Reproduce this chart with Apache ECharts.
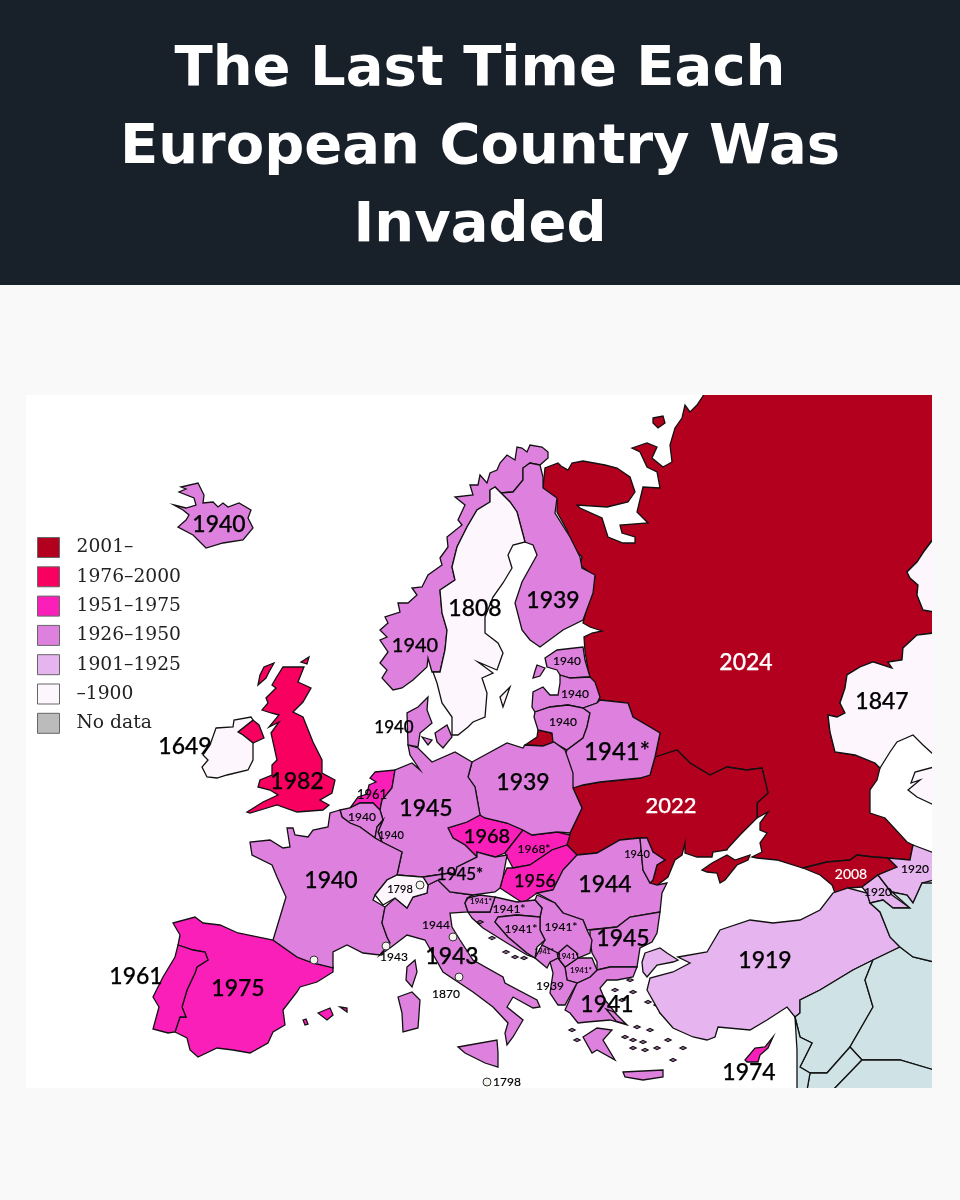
<!DOCTYPE html>
<html>
<head>
<meta charset="utf-8">
<title>The Last Time Each European Country Was Invaded</title>
<script src="https://cdn.jsdelivr.net/npm/echarts@6/dist/echarts.min.js"></script>
<style>
html, body { margin: 0; padding: 0; background: #f9f9f9; }
#main { width: 960px; height: 1200px; }
</style>
</head>
<body>
<div id="main"></div>
<script>
// last invasion year per country
var countries = ['Russia', 'Ukraine', 'Georgia', 'UK', 'Cyprus', 'Czechia', 'Slovakia', 'Hungary', 'Netherlands', 'Spain', 'Portugal',
	'Iceland', 'Norway', 'Finland', 'Estonia', 'Latvia', 'Lithuania', 'Belarus', 'Poland', 'Germany', 'Belgium', 'Luxembourg', 'France',
	'Denmark', 'Italy', 'Austria', 'Romania', 'Moldova', 'Bulgaria', 'Greece', 'Macedonia', 'Albania', 'Kosovo', 'Montenegro', 'Serbia',
	'Croatia', 'Bosnia', 'Slovenia', 'Turkey', 'Armenia', 'Azerbaijan', 'Sweden', 'Ireland', 'Switzerland', 'Kazakhstan', 'CentralAsia'];
var years = [2024, 2022, 2008, 1982, 1974, 1968, 1968, 1956, 1961, 1975, 1961,
	1940, 1940, 1939, 1940, 1940, 1940, 1941, 1939, 1945, 1940, 1940, 1940,
	1940, 1943, 1945, 1944, 1940, 1945, 1941, 1941, 1939, 1941, 1941, 1941,
	1941, 1941, 1941, 1919, 1920, 1920, 1808, 1649, 1798, 1847, 1847];
var noDataCountries = ['Syria', 'Iraq', 'Iran', 'Jordan', 'Saudi', 'Levant'];

// legend
var binNames = ['2001–', '1976–2000', '1951–1975', '1926–1950', '1901–1925', '–1900', 'No data'];
var binColors = ['#b3001e', '#f8005f', '#fa1fb8', '#de80de', '#e6b4ee', '#fdf6fd', '#bbbbbb'];
var binMin = [2001, 1976, 1951, 1926, 1901, 0];
var binMax = [3000, 2000, 1975, 1950, 1925, 1900];

// labels on the map
var labelTexts = ['1940', '1940', '1808', '1939', '2024', '1847', '1940', '1940', '1940', '1941*', '1940', '1649', '1982', '1961', '1940', '1940',
	'1945', '1939', '2022', '1968', '1968*', '1945*', '1956', '1944', '1940', '2008', '1920', '1920', '1919', '1940', '1798', '1961', '1975',
	'1944', '1943', '1943', '1870', '1798', '1941*', '1941*', '1941*', '1941*', '1945', '1941*', '1941*', '1941*', '1939', '1941', '1974'];
var labelAnchors = [[219, 525], [415, 646], [475, 609], [553, 601], [746, 663], [882, 702], [567, 661], [575, 694], [563, 722], [617, 752], [394, 728], [185, 747], [297, 782], [372, 795], [362, 817], [391, 835],
	[426, 809], [523, 783], [671, 806], [487, 837], [534, 849], [460, 875], [535, 881], [605, 885], [637, 854], [851, 874], [915, 869], [878, 892], [765, 961], [331, 881], [400, 889], [136, 977], [238, 989],
	[436, 925], [394, 957], [452, 957], [446, 994], [507, 1082], [481, 901], [509, 909], [521, 929], [561, 927], [623, 939], [544, 952], [568, 956], [581, 970], [550, 986], [607, 1005], [749, 1073]];
var labelSizes = [23, 20, 23, 23, 23, 23, 12, 12, 12, 24, 17, 23, 23, 13, 12, 11,
	23, 23, 22, 20, 12, 17, 18, 23, 11, 14, 12, 12, 23, 23, 11, 23, 23,
	12, 12, 23, 12, 12, 8, 12, 12, 12, 23, 7, 8, 8, 12, 23, 23];
var whiteLabels = ['2024', '2022', '2008'];

// microstates and cities, little round markers
var dotPoints = [[314, 960], [386, 946], [453, 937], [459, 977], [420, 885], [487, 1082]];

// small islands, each drawn as a tiny diamond
var greekIslands = [[625, 1037], [633, 1040], [643, 1042], [633, 1048], [645, 1050], [657, 1048], [650, 1030], [637, 1027], [630, 980], [633, 992], [615, 990], [648, 1002], [657, 1005], [663, 1013], [572, 1030], [577, 1040], [683, 1048], [673, 1060], [622, 1000], [668, 1040]];
var croatianIslands = [[480, 922], [492, 938], [506, 952], [515, 957], [524, 958]];

function islandRing(p) {
	return [p[0] - 3, p[1], p[0], p[1] - 1.5, p[0] + 3, p[1], p[0], p[1] + 1.5];
}

// outlines, [x, y, x, y, ...] in picture pixels, one list per island
var outlines = {
	Russia: [
		[705,396, 932,396, 932,538, 925,550, 917,562, 907,572, 910,578, 918,585, 917,595, 923,610, 932,612, 932,633, 917,635, 903,648, 902,660, 888,662, 892,668, 873,662, 860,667, 847,675, 845,688, 840,703, 845,713, 837,717, 828,715, 830,732, 835,752, 855,755, 875,763, 880,768, 877,780, 870,790, 870,813, 885,818, 907,842, 913,845, 910,860, 888,858, 873,857, 857,855, 850,860, 827,862, 803,868, 777,860, 757,858, 752,857, 762,852, 760,843, 767,833, 760,830, 760,823, 768,812, 757,818, 757,803, 768,793, 762,768, 747,770, 727,767, 710,775, 690,763, 677,750, 662,755, 655,757, 660,733, 650,727, 633,717, 628,703, 600,700, 590,680, 585,652, 584,637, 592,633, 602,631, 590,627, 583,623, 595,577, 580,565, 582,557, 570,545, 568,532, 557,512, 557,500, 543,488, 545,468, 558,463, 561,466, 568,470, 572,463, 583,461, 605,465, 617,468, 630,477, 635,492, 628,502, 607,507, 577,505, 580,508, 602,518, 608,537, 623,543, 635,543, 635,537, 622,533, 620,525, 648,523, 637,512, 643,487, 660,488, 657,472, 647,467, 640,452, 632,448, 647,443, 657,447, 652,458, 663,467, 672,462, 670,445, 675,428, 682,418, 685,405, 690,412, 697,405],
		[653,418, 663,416, 665,423, 658,428, 653,423],
		[525,745, 537,737, 538,730, 552,733, 554,742, 543,746]
	],
	Ukraine: [
		[583,785, 600,782, 640,778, 650,775, 655,757, 677,750, 690,763, 710,775, 727,767, 747,770, 762,768, 768,793, 757,803, 757,818, 740,835, 728,848, 727,850, 713,852, 712,857, 697,857, 685,853, 685,843, 682,855, 675,860, 668,877, 655,887, 650,883, 653,880, 657,865, 665,860, 653,852, 647,838, 640,838, 620,840, 597,853, 577,855, 567,845, 570,833, 582,808, 573,788],
		[702,870, 712,863, 727,855, 735,860, 750,855, 748,860, 737,865, 725,880, 720,883, 717,873, 707,872]
	],
	Georgia: [[803,868, 827,862, 850,860, 857,855, 873,857, 888,858, 897,867, 878,875, 862,887, 848,888, 835,893, 832,885, 820,875]],
	UK: [
		[283,667, 304,667, 298,682, 311,688, 303,702, 293,712, 303,717, 313,742, 322,760, 322,773, 335,780, 332,793, 320,800, 329,805, 323,810, 297,812, 277,805, 267,808, 250,813, 247,812, 263,802, 278,795, 270,790, 258,787, 260,780, 272,775, 272,765, 277,760, 271,733, 279,722, 269,727, 279,715, 271,713, 262,710, 268,703, 266,698, 276,688, 272,685, 276,678],
		[258,685, 260,675, 264,667, 274,663, 269,672, 266,678],
		[301,662, 309,657, 307,664],
		[238,732, 253,720, 259,725, 264,738, 253,743, 243,735]
	],
	Cyprus: [[745,1060, 755,1048, 765,1047, 773,1037, 768,1048, 760,1055, 758,1062, 747,1062]],
	Czechia: [[448,828, 467,822, 480,815, 485,818, 507,823, 523,830, 505,853, 495,857, 477,852, 477,857, 465,845, 453,838]],
	Slovakia: [[523,830, 532,835, 557,832, 570,835, 567,845, 552,850, 530,865, 513,868, 505,853]],
	Hungary: [[513,868, 530,865, 552,850, 567,845, 577,855, 563,870, 553,890, 537,893, 523,903, 500,888, 503,877, 507,868]],
	Netherlands: [[375,772, 395,770, 392,788, 382,800, 380,810, 373,803, 360,803, 350,808, 358,797, 367,794, 369,785, 376,782, 370,778]],
	Spain: [[173,923, 195,917, 203,923, 220,925, 238,933, 273,940, 297,957, 313,963, 333,967, 333,972, 317,982, 300,987, 297,992, 283,1010, 285,1025, 273,1032, 268,1043, 250,1053, 233,1050, 217,1048, 198,1057, 190,1050, 187,1038, 175,1032, 180,1017, 186,1017, 182,1007, 187,990, 195,973, 197,967, 208,960, 205,952, 193,950, 178,945, 180,935],
		[318,1013, 330,1008, 333,1015, 327,1020],
		[340,1007, 347,1008, 347,1012],
		[303,1020, 306,1019, 308,1024, 305,1025]
	],
	Portugal: [[178,945, 193,950, 205,952, 208,960, 197,967, 195,973, 187,990, 182,1007, 186,1017, 180,1017, 175,1032, 168,1033, 153,1029, 159,1007, 153,997, 163,977, 175,957]],
	Iceland: [[174,505, 186,508, 196,505, 194,498, 179,492, 186,489, 181,487, 198,483, 204,495, 203,503, 213,502, 218,507, 223,503, 228,507, 239,503, 251,510, 248,518, 253,528, 243,540, 223,543, 206,548, 193,535, 178,527, 186,520, 189,515, 183,510]],
	Norway: [[548,452, 542,447, 530,445, 527,452, 522,448, 517,447, 515,460, 507,455, 500,463, 497,470, 490,473, 487,483, 480,475, 478,485, 470,485, 473,495, 455,497, 465,505, 458,520, 462,525, 447,537, 448,547, 440,558, 442,565, 428,575, 422,587, 412,588, 417,595, 408,603, 398,603, 400,612, 385,617, 388,623, 380,630, 387,637, 380,640, 388,652, 380,663, 387,670, 382,678, 393,690, 402,688, 413,680, 427,667, 428,658, 432,672, 440,672, 445,650, 447,630, 442,613, 440,590, 455,580, 452,567, 457,547, 467,527, 477,510, 490,502, 490,490, 495,487, 500,493, 513,492, 523,480, 523,468, 530,463, 540,465, 548,458]],
	Finland: [[523,468, 530,463, 540,465, 543,477, 543,488, 557,498, 555,513, 570,537, 580,557, 582,568, 595,575, 593,593, 583,620, 563,630, 540,647, 530,640, 522,630, 515,603, 522,582, 537,555, 533,545, 525,542, 517,512, 510,502, 495,487, 500,493, 513,492, 523,480]],
	Estonia: [[545,658, 557,650, 583,647, 585,660, 590,677, 570,678, 560,675, 557,670, 547,667], [537,665, 545,668, 540,676, 533,678, 535,671]],
	Latvia: [[532,707, 533,692, 543,687, 550,695, 558,695, 560,683, 560,675, 570,678, 590,677, 595,682, 600,697, 597,703, 583,708, 568,705, 550,707, 535,712]],
	Lithuania: [[535,712, 550,707, 568,705, 583,708, 590,713, 587,727, 583,738, 567,750, 553,742, 552,733, 538,730, 534,717]],
	Belarus: [[583,708, 597,703, 600,700, 628,703, 633,717, 650,727, 660,733, 655,757, 650,775, 640,778, 600,782, 583,785, 573,788, 565,755, 567,750, 583,738, 587,727, 590,713]],
	Poland: [[472,762, 507,743, 523,748, 525,745, 543,746, 554,742, 565,750, 573,773, 573,788, 582,808, 570,833, 557,832, 532,835, 523,830, 507,823, 485,818, 480,815, 475,787, 468,777]],
	Germany: [[408,745, 418,748, 432,762, 455,752, 472,762, 468,777, 475,787, 480,815, 467,822, 448,828, 453,838, 465,845, 477,857, 457,867, 455,875, 450,873, 423,877, 397,875, 402,852, 382,842, 378,832, 383,820, 380,810, 382,800, 392,788, 395,770, 412,763, 420,770, 410,755]],
	Belgium: [[340,810, 350,808, 360,803, 373,803, 380,810, 383,820, 377,827, 375,838, 360,827, 350,823, 342,817]],
	Luxembourg: [[377,827, 383,820, 378,832, 382,842, 375,838]],
	France: [
		[328,827, 330,813, 340,810, 342,817, 350,823, 360,827, 375,838, 382,842, 402,852, 397,875, 387,880, 375,895, 373,900, 385,907, 382,923, 387,937, 390,943, 380,955, 363,953, 347,945, 333,952, 333,968, 313,963, 297,957, 273,940, 280,917, 286,897, 277,877, 272,865, 252,855, 250,842, 270,840, 283,848, 290,847, 287,828, 293,828, 295,835, 308,837, 313,830],
		[407,967, 415,960, 417,972, 412,987, 406,980]
	],
	Denmark: [[428,697, 427,710, 432,723, 420,733, 418,747, 408,745, 407,713, 418,707], [435,733, 447,725, 452,737, 443,748, 437,742], [422,737, 432,740, 428,745]],
	Italy: [
		[385,907, 395,898, 407,908, 413,897, 427,893, 428,885, 438,880, 450,892, 473,895, 467,898, 465,903, 468,912, 450,913, 452,927, 460,940, 473,960, 503,977, 505,983, 537,1000, 540,1007, 533,1008, 513,997, 507,1007, 523,1020, 513,1037, 507,1045, 505,1033, 508,1023, 493,1007, 473,992, 443,972, 425,940, 407,935, 390,948, 380,955, 390,943, 387,937, 382,923],
		[458,1047, 497,1040, 498,1053, 498,1067, 485,1063, 465,1053],
		[398,997, 412,992, 420,1000, 418,1028, 403,1032, 402,1013]
	],
	Austria: [[457,867, 477,857, 477,852, 495,857, 507,855, 503,877, 500,888, 495,892, 473,895, 450,892, 438,880, 428,885, 423,877, 450,873, 455,875]],
	Romania: [[577,855, 597,853, 620,840, 640,838, 643,870, 650,883, 657,885, 667,883, 662,893, 660,912, 630,917, 617,927, 587,930, 583,920, 563,913, 555,903, 537,893, 553,890, 563,870]],
	Moldova: [[640,838, 647,838, 653,852, 665,860, 657,865, 653,880, 650,883, 643,870]],
	Bulgaria: [[590,930, 617,927, 630,917, 660,912, 657,933, 652,942, 640,948, 637,967, 610,967, 597,970, 597,962, 592,953, 590,940]],
	Greece: [
		[565,1010, 577,983, 590,977, 597,970, 610,967, 637,967, 633,977, 617,980, 607,980, 600,988, 605,1000, 617,1015, 627,1025, 610,1020, 587,1022, 578,1023, 570,1013],
		[583,1037, 597,1028, 612,1030, 603,1040, 615,1060, 597,1050, 592,1053],
		[623,1072, 663,1070, 663,1077, 643,1080, 625,1077],
		[606,1009, 614,1012, 626,1024, 616,1021]
	].concat(greekIslands.map(islandRing)),
	Macedonia: [[565,967, 578,958, 592,958, 597,970, 590,977, 577,983, 567,980]],
	Albania: [[550,962, 558,958, 565,967, 567,980, 577,983, 565,1005, 558,1005, 550,993, 553,973]],
	Kosovo: [[558,953, 567,945, 577,953, 578,958, 565,967, 558,958]],
	Montenegro: [[535,958, 542,945, 557,952, 558,958, 550,962, 547,968]],
	Serbia: [[537,895, 555,903, 563,913, 583,920, 587,930, 592,940, 590,953, 578,958, 577,953, 567,945, 558,953, 557,952, 542,945, 545,940, 540,930, 540,917, 542,908, 535,900]],
	Croatia: [[495,897, 517,902, 535,900, 542,908, 540,917, 517,915, 498,917, 495,922, 508,937, 527,953, 535,958, 527,955, 507,943, 483,928, 472,918, 468,912, 490,912]].concat(croatianIslands.map(islandRing)),
	Bosnia: [[498,917, 517,915, 540,917, 540,930, 545,940, 537,947, 535,958, 527,953, 508,937, 495,922]],
	Slovenia: [[468,898, 480,895, 495,897, 490,912, 468,912, 465,903]],
	Turkey: [
		[678,957, 707,952, 720,930, 750,920, 773,923, 800,920, 820,910, 833,893, 848,888, 867,893, 870,903, 880,912, 890,937, 900,947, 873,960, 853,970, 820,990, 800,1000, 800,1013, 795,1017, 787,1007, 767,1020, 750,1030, 718,1027, 715,1037, 707,1040, 693,1037, 673,1028, 660,1013, 647,990, 650,978, 673,972, 690,963],
		[645,953, 660,948, 667,953, 678,960, 673,962, 657,965, 647,977, 643,972, 642,962]
	],
	Armenia: [[862,887, 878,875, 888,888, 892,895, 910,908, 893,908, 883,900, 870,903, 867,893]],
	Azerbaijan: [[913,845, 932,853, 932,880, 922,883, 913,903, 907,895, 892,892, 888,888, 878,875, 897,867, 888,858, 910,860]],
	Sweden: [[490,490, 495,487, 510,502, 517,512, 525,542, 513,545, 508,555, 512,568, 503,583, 493,597, 485,617, 485,633, 498,643, 503,653, 497,670, 478,662, 493,673, 482,678, 487,693, 485,717, 473,722, 468,727, 458,735, 452,735, 452,717, 442,703, 437,683, 433,672, 440,672, 445,650, 447,630, 442,613, 440,590, 455,580, 452,567, 457,547, 467,527, 477,510, 490,502], [500,697, 510,687, 503,707]],
	Ireland: [[216,728, 233,727, 234,720, 251,717, 253,720, 238,732, 243,735, 253,743, 253,760, 248,770, 227,775, 217,778, 207,777, 202,767, 208,760, 203,755, 210,745]],
	Switzerland: [[375,895, 387,880, 397,875, 423,877, 428,885, 427,893, 413,897, 407,908, 395,898, 383,905]],
	Kazakhstan: [[932,633, 917,635, 903,648, 902,660, 888,662, 892,668, 873,662, 860,667, 847,675, 845,688, 840,703, 845,713, 837,717, 828,715, 830,732, 835,752, 855,755, 875,763, 880,768, 890,752, 897,742, 913,735, 923,745, 932,755]],
	CentralAsia: [[932,767, 915,772, 911,783, 920,780, 908,790, 917,797, 932,805], [932,538, 925,550, 917,562, 907,572, 910,578, 918,585, 917,595, 923,610, 932,612]],
	Syria: [[800,1000, 820,990, 853,970, 873,960, 865,980, 873,1007, 850,1047, 827,1073, 810,1073, 800,1067, 812,1043, 800,1037, 795,1017, 800,1013]],
	Iraq: [[873,960, 900,947, 913,957, 932,962, 932,1070, 900,1060, 862,1060, 850,1047, 873,1007, 865,980]],
	Iran: [[932,883, 922,883, 913,903, 907,895, 892,892, 910,908, 893,908, 883,900, 870,903, 880,912, 890,937, 900,947, 913,957, 932,962]],
	Jordan: [[850,1047, 862,1060, 833,1088, 807,1088, 810,1073, 827,1073]],
	Saudi: [[862,1060, 900,1060, 932,1070, 932,1088, 833,1088]],
	Levant: [[795,1017, 800,1037, 812,1043, 800,1067, 810,1073, 807,1088, 797,1088, 797,1050]]
};

var features = [{
	type: 'Feature',
	properties: { name: 'frame' },
	geometry: { type: 'Polygon', coordinates: [[[26, 393], [934, 393], [934, 1090], [26, 1090]]] }
}];

// shapes touching the panel edge run a little past it, the cover strips below hide their outline
function toRing(flat) {
	var ring = [];
	for (var i = 0; i < flat.length; i += 2) {
		ring.push([flat[i] >= 932 ? 934 : flat[i], flat[i + 1] <= 396 ? 393 : (flat[i + 1] >= 1088 ? 1090 : flat[i + 1])]);
	}
	ring.push(ring[0]);
	return ring;
}

for (var key in outlines) {
	features.push({
		type: 'Feature',
		properties: { name: key },
		geometry: {
			type: 'MultiPolygon',
			coordinates: outlines[key].map(function(flat) {
				return [toRing(flat)];
			})
		}
	});
}

echarts.registerMap('europe', { type: 'FeatureCollection', features: features });

var mapData = countries.map(function(name, i) {
	return { name: name, value: years[i] };
});

var labelData = labelTexts.map(function(text, i) {
	var color = whiteLabels.indexOf(text) > -1 ? '#ffffff' : '#000000';
	return {
		name: text,
		value: labelAnchors[i],
		label: {
			fontSize: labelSizes[i],
			color: color,
			textBorderColor: color,
			textBorderWidth: labelSizes[i] > 15 ? 0.25 : 0.1
		}
	};
});

var geoRegions = [{ name: 'frame', itemStyle: { areaColor: '#ffffff', borderWidth: 0 } }];
noDataCountries.forEach(function(name) {
	geoRegions.push({ name: name, itemStyle: { areaColor: '#cfe2e6' } });
});

var series = [{
	type: 'map',
	geoIndex: 0,
	data: mapData
}, {
	type: 'scatter',
	coordinateSystem: 'geo',
	data: dotPoints,
	symbolSize: 8,
	silent: true,
	itemStyle: { color: '#f4f4ee', borderColor: '#333', borderWidth: 1, opacity: 1 },
	z: 5
}, {
	type: 'scatter',
	coordinateSystem: 'geo',
	data: labelData,
	symbolSize: 0,
	silent: true,
	itemStyle: { opacity: 1 },
	label: {
		show: true,
		position: 'inside',
		formatter: '{b}',
		fontFamily: 'Lato',
		fontWeight: 500
	},
	z: 6
}];

// empty series, only there so the legend gets its swatches
binNames.forEach(function(name, i) {
	series.push({
		type: 'scatter',
		coordinateSystem: 'geo',
		name: name,
		data: [],
		itemStyle: { color: binColors[i], opacity: 1 }
	});
});

var myChart = echarts.init(document.getElementById('main'), null, { renderer: 'canvas' });

var coverStyle = { fill: '#f9f9f9' };

var option = {
	backgroundColor: '#f9f9f9',
	animation: false,
	title: {
		text: 'The Last Time Each\nEuropean Country Was\nInvaded',
		left: 'center',
		top: 26,
		textStyle: {
			color: '#ffffff',
			fontFamily: 'DejaVu Sans',
			fontWeight: 700,
			fontSize: 56,
			lineHeight: 78,
			align: 'center'
		}
	},
	graphic: [{
		type: 'rect',
		shape: { x: 0, y: 0, width: 960, height: 285 },
		style: { fill: '#18202a' },
		silent: true,
		z: -1
	}, {
		type: 'rect',
		shape: { x: 932, y: 385, width: 10, height: 713 },
		style: coverStyle,
		silent: true,
		z: 20
	}, {
		type: 'rect',
		shape: { x: 20, y: 385, width: 920, height: 10 },
		style: coverStyle,
		silent: true,
		z: 20
	}, {
		type: 'rect',
		shape: { x: 20, y: 1088, width: 920, height: 10 },
		style: coverStyle,
		silent: true,
		z: 20
	}],
	legend: {
		orient: 'vertical',
		left: 37,
		top: 537,
		padding: 0,
		itemWidth: 22,
		itemHeight: 20,
		itemGap: 8.3,
		icon: 'rect',
		data: binNames,
		selectedMode: false,
		itemStyle: { borderColor: '#666', borderWidth: 1 },
		textStyle: {
			fontFamily: 'DejaVu Serif',
			fontSize: 18.7,
			lineHeight: 20,
			color: '#222',
			padding: [0, 0, 0, 12]
		}
	},
	visualMap: {
		show: false,
		seriesIndex: 0,
		type: 'piecewise',
		pieces: binMin.map(function(min, i) {
			return { min: min, max: binMax[i], color: binColors[i] };
		})
	},
	geo: {
		map: 'europe',
		projection: {
			project: function(p) { return p; },
			unproject: function(p) { return p; }
		},
		left: 26,
		top: 393,
		width: 908,
		height: 697,
		aspectScale: 1,
		roam: false,
		silent: true,
		label: { show: false },
		emphasis: { disabled: true },
		itemStyle: { areaColor: '#ffffff', borderColor: '#111111', borderWidth: 1.3 },
		regions: geoRegions
	},
	series: series
};

myChart.setOption(option);
</script>
</body>
</html>
